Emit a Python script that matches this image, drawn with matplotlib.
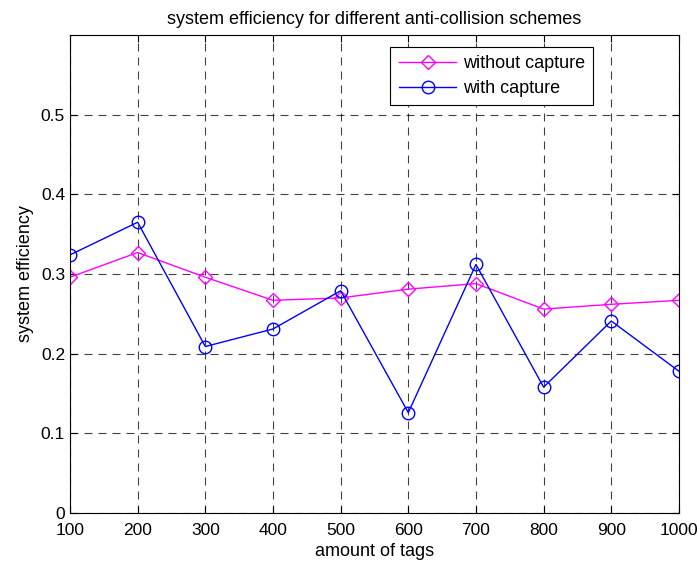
import numpy as np
import matplotlib.pyplot as plt

plt.rcParams['font.family'] = ['Liberation Sans', 'DejaVu Sans']

# tag counts and measured efficiency
tags = [100, 200, 300, 400, 500, 600, 700, 800, 900, 1000]
eff_no_capture = [0.296, 0.327, 0.296, 0.267, 0.270, 0.281, 0.288, 0.256, 0.262, 0.267]
eff_capture = [0.324, 0.365, 0.209, 0.231, 0.279, 0.126, 0.312, 0.158, 0.241, 0.178]

fig = plt.figure(figsize=(6.97, 5.65), dpi=100)
ax = fig.add_axes([0.1004, 0.092, 0.8737, 0.846])

ax.plot(tags, eff_no_capture, color='magenta', marker='D', markersize=7,
        markerfacecolor='none', linewidth=1, label='without capture')
ax.plot(tags, eff_capture, color='blue', marker='o', markersize=9,
        markerfacecolor='none', linewidth=1, label='with capture')

ax.set_xlim(100, 1000)
ax.set_ylim(0, 0.6)
ax.set_xticks(tags)
ax.set_yticks([0, 0.1, 0.2, 0.3, 0.4, 0.5])
ax.set_yticklabels(['0', '0.1', '0.2', '0.3', '0.4', '0.5'])
ax.tick_params(direction='in', top=True, right=True, labelsize=12.5, length=5)
ax.tick_params(axis='x', pad=7)
ax.grid(True, color='black', linestyle=(0, (7.2, 5.4)), linewidth=0.8, alpha=0.75)

ax.set_xlabel('amount of tags', fontsize=13, labelpad=4)
ax.set_ylabel('system efficiency', fontsize=13, labelpad=5)
ax.set_title('system efficiency for different anti-collision schemes', fontsize=13, pad=8)

leg = ax.legend(loc='upper right', bbox_to_anchor=(0.8588, 0.975), fontsize=13,
                fancybox=False, framealpha=1, edgecolor='black', borderpad=0.45,
                handlelength=3.2, handletextpad=0.35, labelspacing=0.45,
                borderaxespad=0)
leg.get_frame().set_linewidth(0.8)

fig.savefig('out.png', dpi=100)
